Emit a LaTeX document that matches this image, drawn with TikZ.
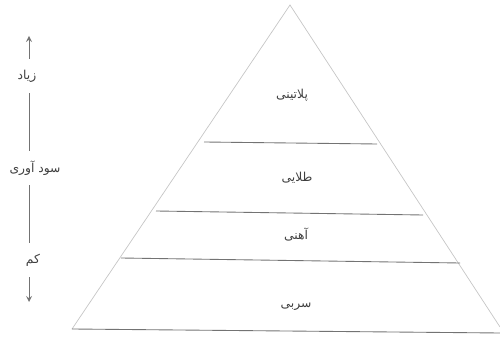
\documentclass[tikz,border=0pt]{standalone}
\usepackage{fontspec}
\newfontfamily\arabicfont[Script=Arabic]{DejaVu Sans}
\TeXXeTstate=1
\begin{document}
\begin{tikzpicture}[x=0.02cm,y=-0.02cm,
  edge/.style={draw=gray!45,line width=0.4pt},
  level/.style={draw=gray!90!black,line width=0.5pt},
  lbl/.style={font=\arabicfont\fontsize{7}{8}\selectfont,text=black!75,inner sep=1pt},
  side/.style={lbl,fill=white,minimum height=34*0.02cm,inner sep=0pt},
  axis/.style={draw=gray!90!black,line width=0.5pt,-stealth}]
\useasboundingbox (0,0) rectangle (500,337);
% pyramid
\coordinate (apex) at (290,5);
\coordinate (bl) at (72,329);
\coordinate (br) at (500,333);
\coordinate (br2) at (500,327);
\draw[edge] (bl) -- (apex) -- (br2);
\coordinate (a1) at (204,142); \coordinate (b1) at (377,144);
\coordinate (a2) at (156,211); \coordinate (b2) at (423,215);
\coordinate (a3) at (121,258); \coordinate (b3) at (460,263);
\draw[level] (a1) -- (b1);
\draw[level] (a2) -- (b2);
\draw[level] (a3) -- (b3);
\draw[level] (bl) -- (br);
% level labels
\node[lbl] (p) at (292,95) {\beginR پلاتینی\endR};
\node[lbl] (t) at (297,178) {\beginR طلایی\endR};
\node[lbl] (h) at (296,235) {\beginR آهنی\endR};
\node[lbl] (s) at (296,307) {\beginR سربی\endR};
% axis
\coordinate (top) at (29,36);
\coordinate (mid) at (29,168);
\coordinate (bot) at (29,302);
\draw[axis] (mid) -- (top);
\draw[axis] (mid) -- (bot);
\node[side] (hi) at (27,76) {\beginR زیاد\endR};
\node[side] (pr) at (35,168) {\beginR سود آوری\endR};
\node[side] (lo) at (33,260) {\beginR کم\endR};
\end{tikzpicture}
\end{document}
